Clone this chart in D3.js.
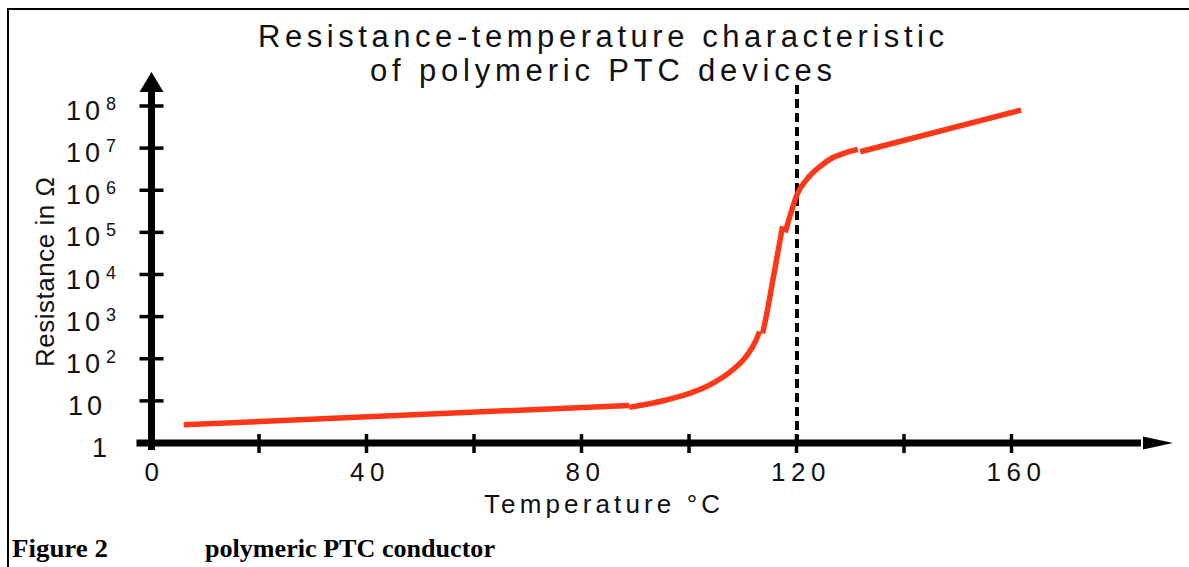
<!DOCTYPE html>
<html>
<head>
<meta charset="utf-8">
<script src="https://cdn.jsdelivr.net/npm/d3@7"></script>
<style>
  html, body { margin: 0; padding: 0; background: #fff; }
  svg { display: block; }
</style>
</head>
<body>
<svg id="chart" width="1189" height="567"></svg>
<script>
// ---- data ----
const titleLines = ["Resistance-temperature characteristic", "of polymeric PTC devices"];
const xLabel = "Temperature °C";
const yLabel = "Resistance in Ω";
const captionNum = "Figure 2";
const captionText = "polymeric PTC conductor";

const xTicks = [20, 40, 60, 80, 100, 120, 140, 160];
const xTickLabels = [0, 40, 80, 120, 160];
const yTickExps = [1, 2, 3, 4, 5, 6, 7, 8];
const yLabelExps = [0, 1, 2, 3, 4, 5, 6, 7, 8];
const switchTemp = 120;

// curve pieces (temperature °C, resistance Ω)
const flatT = [6.0, 88.9];
const flatR = [2.7, 7.8];
const kneeLowT = [88.9, 95.8, 100.1, 104.4, 108.1, 110.6, 112.5, 113.1];
const kneeLowR = [7.0, 10.5, 15, 26, 54, 112, 280, 440];
const steepT = [113.7, 114.6, 115.6, 116.5, 117.4];
const steepR = [400, 1440, 7400, 31600, 140000];
const kneeHighT = [117.9, 119.0, 120.2, 121.8, 124.3, 126.7, 129.2, 131.4];
const kneeHighR = [1.0e5, 3.0e5, 8.5e5, 1.74e6, 3.6e6, 5.9e6, 7.8e6, 9.3e6];
const tripT = [131.85, 161.8];
const tripR = [8.2e6, 8.0e7];

// ---- drawing ----
const svg = d3.select("#chart");
const x = d3.scaleLinear().domain([0, 160]).range([151.5, 1011.5]);
const y = d3.scaleLog().domain([1, 1e8]).range([443, 106]);

const black = "#000";
const red = "#ff3719";
const sans = "'Liberation Sans', Arial, Helvetica, sans-serif";

// frame
svg.append("line").attr("x1", 8).attr("x2", 1189).attr("y1", 9).attr("y2", 9)
  .attr("stroke", black).attr("stroke-width", 2);
svg.append("line").attr("x1", 8).attr("x2", 8).attr("y1", 8).attr("y2", 567)
  .attr("stroke", black).attr("stroke-width", 2);

// title
const titleWidths = [686, 462];
const titleY = [47, 81];
titleLines.forEach((t, i) => {
  svg.append("text").attr("x", 601).attr("y", titleY[i])
    .attr("text-anchor", "middle")
    .attr("font-family", sans).attr("font-size", 31)
    .attr("textLength", titleWidths[i]).attr("lengthAdjust", "spacing")
    .attr("fill", "#111").text(t);
});

// dashed line at switching temperature
const xs = Math.round(x(switchTemp));
svg.append("line")
  .attr("x1", xs).attr("x2", xs)
  .attr("y1", 85).attr("y2", y(1))
  .attr("stroke", black).attr("stroke-width", 4)
  .attr("stroke-dasharray", "9,5");

// x axis
const x0 = x(0);
svg.append("line").attr("x1", x0 - 15).attr("x2", 1141).attr("y1", y(1)).attr("y2", y(1))
  .attr("stroke", black).attr("stroke-width", 7);
svg.append("path")
  .attr("d", `M1143,${y(1) - 6.5} L1173,${y(1)} L1143,${y(1) + 6.5} Z`)
  .attr("fill", black);
svg.selectAll(".xt").data(xTicks).enter().append("line")
  .attr("x1", d => x(d)).attr("x2", d => x(d))
  .attr("y1", y(1) - 9).attr("y2", y(1) + 10)
  .attr("stroke", black).attr("stroke-width", 3.5);
svg.selectAll(".xl").data(xTickLabels).enter().append("text")
  .attr("x", d => x(d) + 3 + d / 80).attr("y", 481)
  .attr("text-anchor", "middle")
  .attr("font-family", sans).attr("font-size", 26)
  .attr("letter-spacing", 5.5)
  .attr("fill", "#111").text(d => d);

// y axis
svg.append("line").attr("x1", x0).attr("x2", x0).attr("y1", y(1) + 7).attr("y2", 90)
  .attr("stroke", black).attr("stroke-width", 7);
svg.append("path")
  .attr("d", `M${x0 - 12},92 L${x0},72 L${x0 + 12},92 Z`)
  .attr("fill", black);
svg.selectAll(".yt").data(yTickExps).enter().append("line")
  .attr("x1", x0 - 12).attr("x2", x0 + 12)
  .attr("y1", d => y(Math.pow(10, d))).attr("y2", d => y(Math.pow(10, d)))
  .attr("stroke", black).attr("stroke-width", 3.5);

yLabelExps.forEach(e => {
  const yy = y(Math.pow(10, e)) + 14;
  const t = svg.append("text")
    .attr("font-family", sans).attr("font-size", 27)
    .attr("letter-spacing", 4).attr("fill", "#111");
  if (e === 0) {
    t.attr("x", 92).attr("y", yy).text("1");
  } else if (e === 1) {
    t.attr("x", 68).attr("y", yy).text("10");
  } else {
    t.attr("x", 66).attr("y", yy).text("10");
    t.append("tspan").attr("font-size", 18).attr("dx", 2).attr("dy", -10).text(e);
  }
});

// axis titles
svg.append("text")
  .attr("transform", "translate(54,272) rotate(-90)")
  .attr("text-anchor", "middle")
  .attr("font-family", sans).attr("font-size", 26)
  .attr("textLength", 190).attr("lengthAdjust", "spacing")
  .attr("fill", "#111").text(yLabel);
svg.append("text")
  .attr("x", 602).attr("y", 513)
  .attr("text-anchor", "middle")
  .attr("font-family", sans).attr("font-size", 26)
  .attr("textLength", 236).attr("lengthAdjust", "spacing")
  .attr("fill", "#111").text(xLabel);

// curve
const pieces = [
  [flatT, flatR, d3.curveLinear],
  [kneeLowT, kneeLowR, d3.curveMonotoneX],
  [steepT, steepR, d3.curveMonotoneX],
  [kneeHighT, kneeHighR, d3.curveMonotoneX],
  [tripT, tripR, d3.curveLinear]
];
pieces.forEach(([ts, rs, c]) => {
  const pts = ts.map((t, i) => [t, rs[i]]);
  const line = d3.line().x(d => x(d[0])).y(d => y(d[1])).curve(c);
  svg.append("path").attr("d", line(pts))
    .attr("fill", "none").attr("stroke", red).attr("stroke-width", 5.5)
    .attr("stroke-linecap", "butt").attr("stroke-linejoin", "round");
});

// caption
svg.append("text").attr("x", 12).attr("y", 557)
  .attr("font-family", "'Liberation Serif', 'Times New Roman', serif")
  .attr("font-weight", "bold").attr("font-size", 25)
  .attr("textLength", 96).attr("lengthAdjust", "spacingAndGlyphs")
  .attr("fill", "#000").text(captionNum);
svg.append("text").attr("x", 205).attr("y", 557)
  .attr("font-family", "'Liberation Serif', 'Times New Roman', serif")
  .attr("font-weight", "bold").attr("font-size", 25)
  .attr("textLength", 290).attr("lengthAdjust", "spacingAndGlyphs")
  .attr("fill", "#000").text(captionText);
</script>
</body>
</html>
